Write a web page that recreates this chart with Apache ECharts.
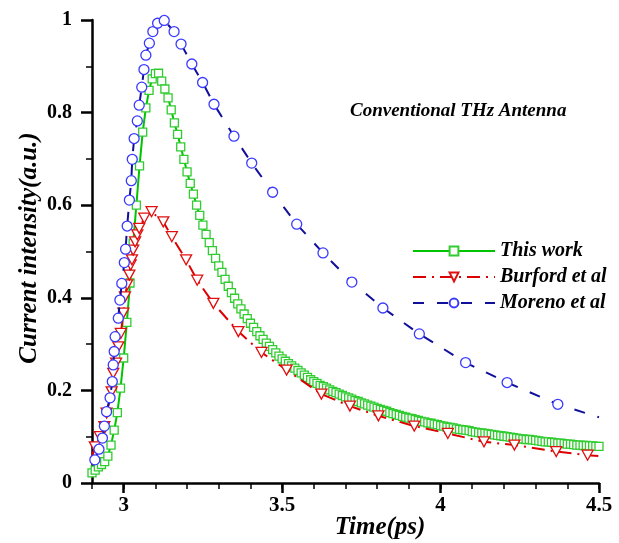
<!DOCTYPE html>
<html><head><meta charset="utf-8">
<script src="https://cdn.jsdelivr.net/npm/echarts@6/dist/echarts.min.js"></script>
<style>html,body{margin:0;padding:0;background:#fff}#c{width:619px;height:543px}</style>
</head><body><div id="c"></div>
<script>
// ---- data ----
const thisWorkT = [2.90,2.91,2.92,2.93,2.94,2.95,2.96,2.97,2.98,2.99,
3.00,3.01,3.02,3.03,3.04,3.05,3.06,3.07,3.08,3.09,
3.10,3.11,3.12,3.13,3.14,3.15,3.16,3.17,3.18,3.19,
3.20,3.21,3.22,3.23,3.24,3.25,3.26,3.27,3.28,3.29,
3.30,3.31,3.32,3.33,3.34,3.35,3.36,3.37,3.38,3.39,
3.40,3.41,3.42,3.43,3.44,3.45,3.46,3.47,3.48,3.49,
3.50,3.51,3.52,3.53,3.54,3.55,3.56,3.57,3.58,3.59,
3.60,3.61,3.62,3.63,3.64,3.65,3.66,3.67,3.68,3.69,
3.70,3.71,3.72,3.73,3.74,3.75,3.76,3.77,3.78,3.79,
3.80,3.81,3.82,3.83,3.84,3.85,3.86,3.87,3.88,3.89,
3.90,3.91,3.92,3.93,3.94,3.95,3.96,3.97,3.98,3.99,
4.00,4.01,4.02,4.03,4.04,4.05,4.06,4.07,4.08,4.09,
4.10,4.11,4.12,4.13,4.14,4.15,4.16,4.17,4.18,4.19,
4.20,4.21,4.22,4.23,4.24,4.25,4.26,4.27,4.28,4.29,
4.30,4.31,4.32,4.33,4.34,4.35,4.36,4.37,4.38,4.39,
4.40,4.41,4.42,4.43,4.44,4.45,4.46,4.47,4.48,4.49,4.50];
const thisWorkI = [0.022,0.028,0.035,0.040,0.046,0.058,0.082,0.114,0.152,0.205,
0.270,0.347,0.432,0.518,0.600,0.685,0.758,0.810,0.848,0.873,
0.884,0.885,0.868,0.851,0.832,0.806,0.778,0.753,0.726,0.699,
0.672,0.647,0.624,0.600,0.578,0.557,0.537,0.519,0.502,0.485,
0.469,0.455,0.440,0.425,0.411,0.399,0.387,0.376,0.365,0.355,
0.345,0.336,0.327,0.318,0.310,0.302,0.295,0.288,0.281,0.274,
0.268,0.263,0.258,0.253,0.248,0.243,0.238,0.233,0.228,0.223,
0.219,0.215,0.211,0.208,0.205,0.201,0.198,0.195,0.192,0.189,
0.186,0.184,0.181,0.178,0.176,0.173,0.171,0.168,0.166,0.164,
0.161,0.159,0.157,0.155,0.152,0.150,0.148,0.146,0.144,0.142,
0.140,0.139,0.137,0.135,0.133,0.132,0.130,0.129,0.127,0.126,
0.124,0.123,0.121,0.120,0.119,0.117,0.116,0.115,0.114,0.113,
0.111,0.110,0.109,0.108,0.107,0.106,0.105,0.104,0.103,0.102,
0.101,0.100,0.099,0.098,0.097,0.096,0.095,0.094,0.094,0.093,
0.092,0.091,0.090,0.089,0.089,0.088,0.087,0.086,0.086,0.085,
0.084,0.084,0.083,0.082,0.082,0.081,0.081,0.080,0.080,0.079,0.079];

const burfordT = [2.897,2.909,2.925,2.939,2.946,2.962,2.967,2.976,2.983,2.991,
2.999,3.004,3.011,3.018,3.022,3.026,3.030,3.036,3.043,3.049,
3.065,3.088,3.125,3.152,3.197,3.232,3.283,3.362,3.435,3.514,
3.624,3.714,3.804,3.917,4.023,4.137,4.233,4.365,4.464,4.500];
const burfordI = [0.052,0.078,0.100,0.122,0.151,0.197,0.237,0.259,0.294,0.323,
0.367,0.402,0.428,0.449,0.471,0.482,0.503,0.521,0.536,0.550,
0.572,0.586,0.564,0.532,0.482,0.438,0.388,0.327,0.282,0.244,
0.192,0.166,0.145,0.123,0.107,0.089,0.082,0.068,0.060,0.058];

const morenoT = [2.909,2.922,2.933,2.939,2.946,2.957,2.964,2.967,2.970,2.973,
2.983,2.988,2.994,3.002,3.006,3.011,3.018,3.024,3.027,3.033,
3.043,3.049,3.057,3.064,3.070,3.081,3.092,3.107,3.128,3.159,
3.181,3.215,3.249,3.285,3.348,3.404,3.470,3.546,3.629,3.720,
3.818,3.933,4.079,4.210,4.370,4.500];
const morenoI = [0.050,0.073,0.097,0.123,0.154,0.184,0.219,0.255,0.284,0.316,
0.356,0.395,0.431,0.476,0.505,0.555,0.611,0.653,0.699,0.744,
0.782,0.816,0.855,0.893,0.924,0.950,0.975,0.993,0.999,0.975,
0.948,0.905,0.865,0.818,0.749,0.691,0.628,0.559,0.497,0.434,
0.378,0.322,0.260,0.217,0.170,0.142];

const seriesNames = ['This work','Burford et al','Moreno et al'];
const xLabelValues = [3, 3.5, 4, 4.5];
const annotation = 'Conventional THz Antenna';
const xTitle = 'Time(ps)';
const yTitle = 'Current intensity(a.u.)';

// ---- build ----
function pairs(t, v, lastNoSymbol) {
  return t.map((x, i) => {
    const item = { value: [x, v[i]] };
    if (lastNoSymbol && i === t.length - 1) item.symbol = 'none';
    return item;
  });
}
const serif = '"Liberation Serif","Times New Roman",serif';
const chart = echarts.init(document.getElementById('c'), null, { renderer: 'canvas' });
const option = {
  animation: false,
  backgroundColor: '#fff',
  grid: { left: 92, right: 20, top: 20, bottom: 60, containLabel: false },
  xAxis: [
    {
      type: 'value', min: 2.9, max: 4.5, interval: 0.1, position: 'bottom',
      axisLine: { show: true, lineStyle: { color: '#000', width: 2.5 } },
      axisTick: { show: true, inside: false, length: 6, lineStyle: { color: '#000', width: 1.5 } },
      axisLabel: { show: false },
      splitLine: { show: false }
    },
    {
      type: 'value', min: 2.9, max: 4.5, position: 'bottom',
      axisLine: { show: false },
      axisTick: { show: true, inside: false, length: 10, customValues: xLabelValues, lineStyle: { color: '#000', width: 2.5 } },
      axisLabel: { show: true, customValues: xLabelValues, margin: 12, color: '#000',
        fontFamily: serif, fontWeight: 'bold', fontSize: 21 },
      splitLine: { show: false }
    }
  ],
  yAxis: {
    type: 'value', min: 0, max: 1, interval: 0.2,
    axisLine: { show: true, lineStyle: { color: '#000', width: 2.5 } },
    axisTick: { show: true, inside: false, length: 11, lineStyle: { color: '#000', width: 2.5 } },
    minorTick: { show: true, splitNumber: 2, length: 6, lineStyle: { color: '#000', width: 1.5 } },
    axisLabel: { margin: 20, color: '#000', fontFamily: serif, fontWeight: 'bold', fontSize: 20 },
    splitLine: { show: false }, minorSplitLine: { show: false }
  },
  legend: {
    orient: 'vertical', left: 407, top: 236, itemWidth: 82, itemHeight: 11, itemGap: 6,
    textStyle: { fontFamily: serif, fontWeight: 'bold', fontStyle: 'italic', fontSize: 20, color: '#000', padding: [0, 0, 0, 0] },
    data: seriesNames
  },
  graphic: [
    { type: 'text', left: 350, top: 102, style: { text: annotation, font: 'italic bold 19px ' + serif, fill: '#000' } },
    { type: 'text', x: 380, y: 528, style: { text: xTitle, font: 'italic bold 25px ' + serif, fill: '#000', textAlign: 'center', textVerticalAlign: 'middle' } },
    { type: 'text', x: 30, y: 248, rotation: Math.PI / 2, style: { text: yTitle, font: 'italic bold 25px ' + serif, fill: '#000', textAlign: 'center', textVerticalAlign: 'middle' } }
  ],
  series: [
    {
      name: seriesNames[0], type: 'line', data: pairs(thisWorkT, thisWorkI, false),
      symbol: 'rect', symbolSize: 8, showAllSymbol: true,
      lineStyle: { color: '#00c400', width: 2 },
      itemStyle: { color: '#fff', borderColor: '#30cc30', borderWidth: 1.3 },
      emphasis: { disabled: true }, z: 2
    },
    {
      name: seriesNames[1], type: 'line', data: pairs(burfordT, burfordI, true),
      symbol: 'triangle', symbolRotate: 180, symbolSize: [11, 10], showAllSymbol: true,
      lineStyle: { color: '#dd0000', width: 2, type: [13, 6, 2, 6] },
      itemStyle: { color: '#fff', borderColor: '#e01010', borderWidth: 1.3 },
      emphasis: { disabled: true }, z: 3
    },
    {
      name: seriesNames[2], type: 'line', data: pairs(morenoT, morenoI, true),
      symbol: 'circle', symbolSize: 10, showAllSymbol: true,
      lineStyle: { color: '#10109a', width: 2, type: [11, 13] },
      itemStyle: { color: '#fff', borderColor: '#3a3aff', borderWidth: 1.3 },
      emphasis: { disabled: true }, z: 4
    }
  ]
};
chart.setOption(option);
</script></body></html>
